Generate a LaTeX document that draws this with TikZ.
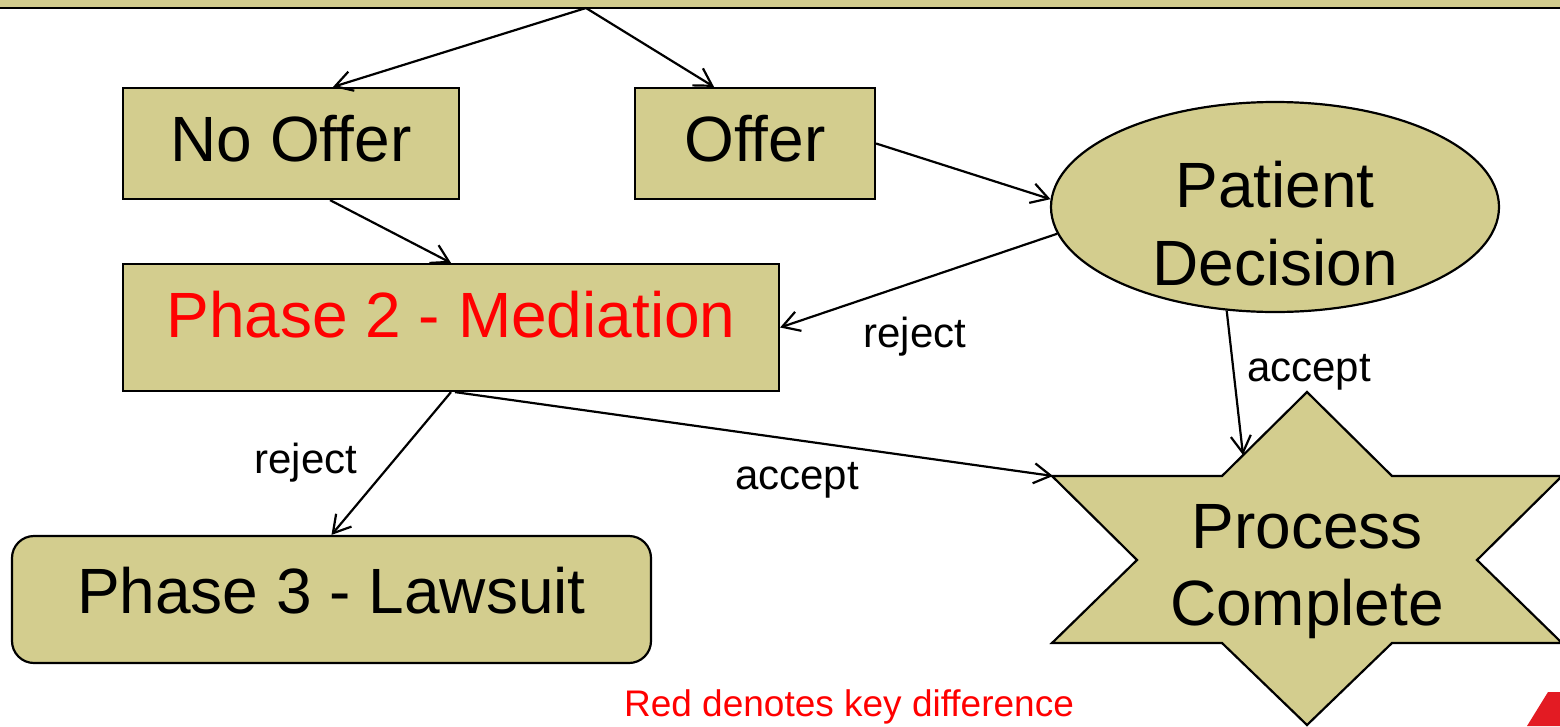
\documentclass[tikz,border=0pt]{standalone}
\usepackage{fontspec}
\setmainfont{Liberation Sans}
\usetikzlibrary{arrows.meta,shapes.geometric,calc}
\definecolor{tan}{RGB}{211,205,142}
\definecolor{logored}{RGB}{227,27,35}
\tikzset{
  bigfont/.style={font=\fontsize{64}{77}\selectfont},
  box/.style={draw=black, line width=2.2pt, fill=tan, inner sep=0pt, bigfont, text height=46pt},
  bigtext/.style={bigfont, anchor=base, inner sep=0pt},
  conn/.style={draw=black, line width=2.2pt, -{Straight Barb[length=17pt,width=20pt,line width=2.2pt]}},
  lbl/.style={font=\fontsize{42}{50}\selectfont, anchor=base, inner sep=0pt},
}
\begin{document}
\begin{tikzpicture}[x=1pt,y=-1pt]
\useasboundingbox (0,0) rectangle (1560,726);
\clip (0,0) rectangle (1560,726);
\fill[white] (0,0) rectangle (1560,726);

% top bar
\node[box, minimum width=1600pt, minimum height=80pt, text height=0pt] (top) at (780,-32) {};
\coordinate (src) at (586,8);

% boxes
\node[box, minimum width=336pt, minimum height=111pt, text depth=11pt] (nooffer) at (291,143.5) {No Offer};
\node[box, minimum width=240pt, minimum height=111pt, text depth=11pt] (offer) at (755,143.5) {Offer};
\node[box, minimum width=656pt, minimum height=127pt, text depth=27pt, text=red] (phase2) at (451,327.5) {Phase 2 - Mediation};
\node[box, rounded corners=22pt, minimum width=639pt, minimum height=127pt, text depth=19pt] (phase3) at (331.5,599.5) {Phase 3 - Lawsuit};

% ellipse
\node[box, ellipse, minimum width=448pt, minimum height=210pt, text height=0pt] (pd) at (1275,207) {};
\node[bigtext] (pdt1) at (1275,207) {Patient};
\node[bigtext] (pdt2) at (1275,285) {Decision};

% star
\draw[line width=2.2pt, fill=tan, line join=miter]
  (1307,392) -- (1392,476) -- (1562,476) -- (1477,560) -- (1562,643) -- (1392,643)
  -- (1307,725) -- (1222,643) -- (1052,643) -- (1137,560) -- (1052,476) -- (1222,476) -- cycle;
\coordinate (pctip) at (1053,476);
\coordinate (pcedge) at (1243,455);
\node[bigtext] (pct1) at (1307,548) {Process};
\node[bigtext] (pct2) at (1307,625) {Complete};

% connectors
\draw[conn] (src) -- ([xshift=42pt]nooffer.north);
\draw[conn] (src) -- ([xshift=-41pt]offer.north);
\draw[conn] (offer.east) -- (pd.178);
\draw[conn] ([xshift=39pt]nooffer.south) -- (phase2.north);
\draw[conn] (pd.187) -- (phase2.east);
\draw[conn] (pd.245) -- (pcedge);
\draw[conn] ([xshift=4pt]phase2.south) -- (pctip);
\draw[conn] (phase2.south) -- (phase3.north);

% labels
\node[lbl] (l1) at (915,347) {reject};
\node[lbl] (l2) at (1309,381) {accept};
\node[lbl] (l3) at (306,473) {reject};
\node[lbl] (l4) at (797,489) {accept};

% footer
\node[font=\fontsize{37}{44}\selectfont, text=red, anchor=base, inner sep=0pt] (note) at (849,716) {Red denotes key difference};
\fill[logored] (1527,726) -- (1548,692) -- (1562,692) -- (1562,726) -- cycle;
\end{tikzpicture}
\end{document}
